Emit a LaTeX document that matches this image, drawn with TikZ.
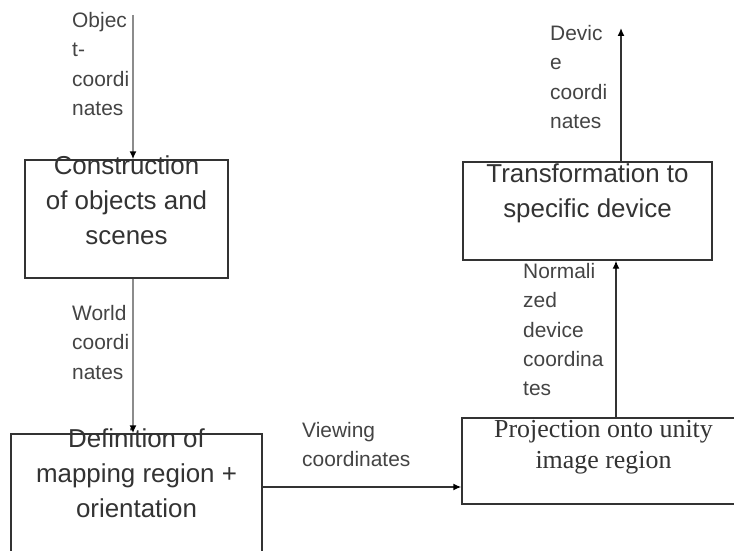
\documentclass[tikz,border=0pt]{standalone}
\usepackage{fontspec}
\setmainfont{Liberation Sans}
\newfontfamily\serifbox{Liberation Serif}
\usetikzlibrary{arrows.meta}
\definecolor{ink}{HTML}{333333}
\definecolor{lab}{HTML}{444444}
\definecolor{greyline}{HTML}{8C8C8C}
\tikzset{
  procbox/.style={draw=ink, line width=1.4bp, inner sep=0pt},
  boxtext/.style={text=ink, align=center, inner sep=0pt, anchor=north, font=\fontsize{26}{35}\selectfont},
  lbl/.style={text=lab, align=left, inner sep=0pt, anchor=north west, font=\fontsize{21}{29.5}\selectfont},
  greyarrow/.style={draw=greyline, line width=2bp, -{Latex[length=8bp,width=7bp,color=black]}},
  darkarrow/.style={draw=ink, line width=1.4bp, -{Latex[length=8bp,width=7bp,color=black]}},
  darkline/.style={draw=ink, line width=1.4bp}
}
\begin{document}
\begin{tikzpicture}[x=1bp,y=-1bp]
\useasboundingbox[fill=white] (0,0) rectangle (734,551);
% boxes
\node[procbox, minimum width=203bp, minimum height=118bp] (b1) at (126.5,219) {};
\node[procbox, minimum width=251bp, minimum height=131bp] (b2) at (136.5,499.5) {};
\node[procbox, minimum width=283bp, minimum height=86bp] (b3) at (603.5,461) {};
\node[procbox, minimum width=249bp, minimum height=98bp] (b4) at (587.5,211) {};
% box texts
\node[boxtext] (t1) at (126.5,156) {Construction\\of objects and\\scenes};
\node[boxtext] (t2) at (136.5,429) {Definition of\\mapping region +\\orientation};
\node[boxtext, font=\serifbox\fontsize{26}{31}\selectfont] (t3) at (603.5,420) {Projection onto unity\\image region};
\node[boxtext] (t4) at (587.5,164) {Transformation to\\specific device};
% labels
\node[lbl] (l1) at (72,12) {Objec\\t-\\coordi\\nates};
\node[lbl] (l2) at (72,305) {World\\coordi\\nates};
\node[lbl] (l3) at (302,422) {Viewing\\coordinates};
\node[lbl] (l4) at (523,263) {Normali\\zed\\device\\coordina\\tes};
\node[lbl] (l5) at (550,25) {Devic\\e\\coordi\\nates};
% connectors
\coordinate (in1) at (133,15);
\draw[greyarrow] (in1) -- (in1 |- b1.north);
\draw[greyarrow] ([xshift=6.5bp]b1.south) -- ([xshift=6.5bp]b1.south |- b2.north);
\coordinate (h) at ([yshift=12.5bp]b2.east);
\draw[darkarrow] (h) -- (h -| b3.west);
\draw[darkarrow] ([xshift=12.5bp]b3.north) -- ([xshift=12.5bp]b3.north |- b4.south);
\coordinate (out) at (621,28);
\draw[darkarrow] (out |- b4.north) -- (out);
\end{tikzpicture}
\end{document}
